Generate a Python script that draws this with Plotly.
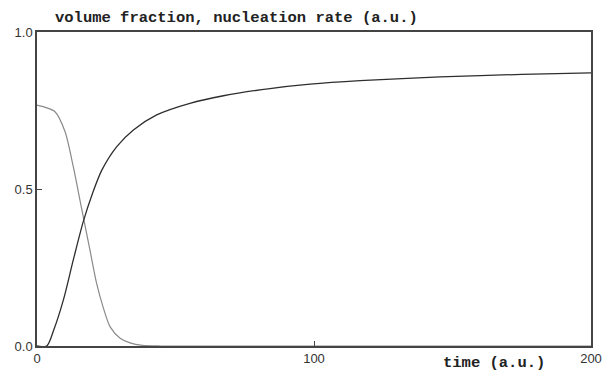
import plotly.graph_objects as go

# Crystallization kinetics: transformed volume fraction and nucleation rate vs time
time_volume = [0, 3.5, 6, 9.5, 13.1, 16.7, 20, 23.4, 28.8, 34.8, 43.2, 55.2,
               67.3, 84.1, 98.6, 116.6, 145.5, 175, 200]
volume_fraction = [0, 0, 0.05, 0.146, 0.274, 0.396, 0.485, 0.56, 0.635, 0.688,
                   0.736, 0.773, 0.797, 0.82, 0.834, 0.845, 0.857, 0.865, 0.870]

time_nucleation = [0, 3, 6.5, 10.1, 13.1, 16.1, 19.1, 21.5, 24, 26.4, 30, 33.6,
                   38, 45, 100, 200]
nucleation_rate = [0.767, 0.76, 0.746, 0.683, 0.571, 0.438, 0.306, 0.2, 0.12,
                   0.061, 0.025, 0.01, 0.002, 0, 0, 0]

x_ticks = [0, 100, 200]
x_tick_text = ["0", "100", "200"]
y_ticks = [0, 0.5, 1.0]
y_tick_text = ["0.0", "0.5", "1.0"]

fig = go.Figure()
fig.add_trace(go.Scatter(
    x=time_nucleation, y=nucleation_rate, mode="lines",
    line=dict(color="#8a8a8a", width=1.2, shape="spline", smoothing=0.8),
    showlegend=False, hoverinfo="skip"))
fig.add_trace(go.Scatter(
    x=time_volume, y=volume_fraction, mode="lines",
    line=dict(color="#2e2e2e", width=1.3, shape="spline", smoothing=0.8),
    showlegend=False, hoverinfo="skip"))

axis_common = dict(showgrid=False, zeroline=False, showline=True, automargin=False,
                   linecolor="#444444", linewidth=1.5, mirror=True,
                   ticks="inside", ticklen=5, tickcolor="#444444",
                   tickfont=dict(family="Liberation Sans", size=13, color="#333333"))

fig.update_xaxes(range=[0, 200], tickvals=x_ticks, ticktext=x_tick_text, **axis_common)
fig.update_yaxes(range=[0, 1.0], tickvals=y_ticks, ticktext=y_tick_text, **axis_common)

label_font = dict(family="Liberation Mono", size=15.5, color="#222222")
fig.add_annotation(text="<b>volume fraction, nucleation rate (a.u.)</b>",
                   xref="paper", yref="paper", x=0.028, y=1.0, yshift=3,
                   xanchor="left", yanchor="bottom", showarrow=False, font=label_font)
fig.add_annotation(text="<b>time (a.u.)</b>",
                   xref="paper", yref="paper", x=0.730, y=0, yshift=-6,
                   xanchor="left", yanchor="top", showarrow=False, font=label_font)

fig.update_layout(width=604, height=371,
                  margin=dict(l=37, r=13, t=32, b=25),
                  paper_bgcolor="white", plot_bgcolor="white")

fig.write_html("out.html")
